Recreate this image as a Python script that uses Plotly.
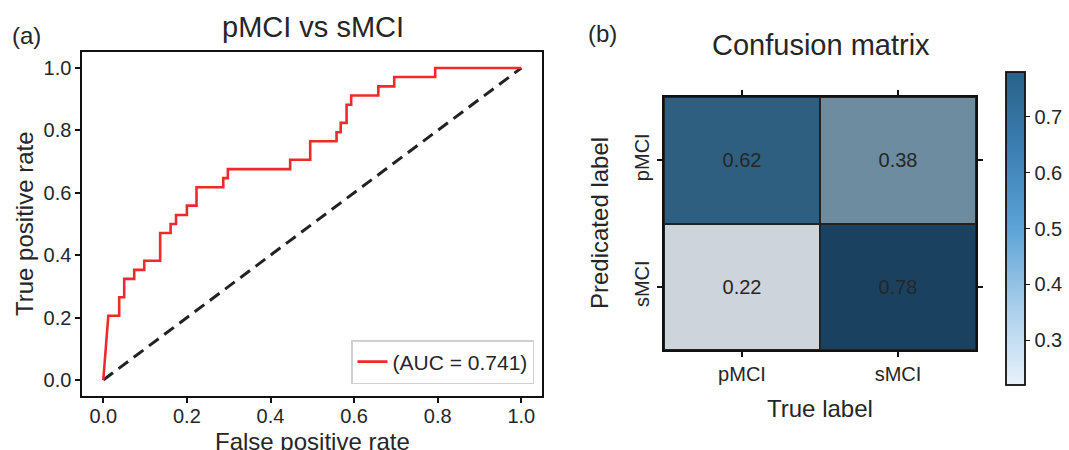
import plotly.graph_objects as go

# ROC curve corner points
fpr = [0.0, 0.012, 0.038, 0.038, 0.050, 0.050, 0.074, 0.074, 0.098, 0.098, 0.136, 0.136,
       0.161, 0.161, 0.174, 0.174, 0.200, 0.200, 0.223, 0.223, 0.287, 0.287, 0.298, 0.298,
       0.447, 0.447, 0.495, 0.495, 0.558, 0.558, 0.568, 0.568, 0.582, 0.582, 0.593, 0.593,
       0.658, 0.658, 0.696, 0.696, 0.794, 0.794, 1.0]
tpr = [0.0, 0.206, 0.206, 0.265, 0.265, 0.324, 0.324, 0.353, 0.353, 0.382, 0.382, 0.471,
       0.471, 0.500, 0.500, 0.529, 0.529, 0.559, 0.559, 0.618, 0.618, 0.647, 0.647, 0.676,
       0.676, 0.706, 0.706, 0.765, 0.765, 0.794, 0.794, 0.824, 0.824, 0.882, 0.882, 0.912,
       0.912, 0.941, 0.941, 0.971, 0.971, 1.0, 1.0]
diag_x = [0.0, 1.0]
diag_y = [0.0, 1.0]
auc_label = "(AUC = 0.741)"
roc_ticks = [0.0, 0.2, 0.4, 0.6, 0.8, 1.0]

# Confusion matrix
cm_labels = ["pMCI", "sMCI"]
cm_values = [[0.62, 0.38], [0.22, 0.78]]
cbar_range = [0.22, 0.78]
cbar_ticks = [0.3, 0.4, 0.5, 0.6, 0.7]

FONT = "Liberation Sans, Arial, sans-serif"
TXT = "#262626"
W, H = 1069, 450

def px(x):
    return x / W

def py(y):
    return 1 - y / H

fig = go.Figure()

fig.add_trace(go.Scatter(x=diag_x, y=diag_y, mode="lines",
                         line=dict(color="#222222", width=3, dash="12px,7px"),
                         showlegend=False, xaxis="x", yaxis="y", hoverinfo="skip"))
fig.add_trace(go.Scatter(x=fpr, y=tpr, mode="lines", name=auc_label,
                         line=dict(color="#EE2A2A", width=2.6),
                         xaxis="x", yaxis="y"))

cell_scale = [[0.0, "#CDD4DB"], [(0.38 - 0.22) / 0.56, "#6D8CA0"],
              [(0.62 - 0.22) / 0.56, "#2F5F80"], [1.0, "#1A4260"]]
fig.add_trace(go.Heatmap(z=cm_values, x=cm_labels, y=cm_labels,
                         zmin=cbar_range[0], zmax=cbar_range[1],
                         colorscale=cell_scale, showscale=False,
                         xgap=2, ygap=2,
                         texttemplate="%{z:.2f}",
                         textfont=dict(size=20, color=TXT, family=FONT),
                         xaxis="x2", yaxis="y2"))

bar_scale = [[0.0, "#E8F2FA"], [0.25, "#A9CEEA"], [0.5, "#5CA3D6"],
             [0.75, "#3C7FB3"], [1.0, "#2A6189"]]
fig.add_trace(go.Scatter(x=[None, None], y=[None, None], mode="markers",
                         marker=dict(color=cbar_range, cmin=cbar_range[0], cmax=cbar_range[1],
                                     colorscale=bar_scale, showscale=True,
                                     colorbar=dict(x=px(1006), xanchor="left", thickness=19,
                                                   xpad=0, ypad=0,
                                                   y=py((72 + 385) / 2), yanchor="middle",
                                                   len=(385 - 72) / H, lenmode="fraction",
                                                   outlinewidth=1.8, outlinecolor="#111111",
                                                   tickvals=cbar_ticks, ticks="outside",
                                                   ticklen=5, tickwidth=1.4, tickcolor="#111111",
                                                   tickfont=dict(size=20, color=TXT, family=FONT))),
                         showlegend=False, xaxis="x2", yaxis="y2", hoverinfo="skip"))

axis_common = dict(showline=True, linecolor="#111111", linewidth=2,
                   showgrid=False, zeroline=False, ticks="outside", ticklen=5,
                   tickwidth=1.6, tickcolor="#111111", automargin=False,
                   tickfont=dict(size=20, color=TXT, family=FONT))

def label(text, x, y, size, angle=0):
    return dict(text=text, x=px(x), y=py(y), xref="paper", yref="paper",
                xanchor="center", yanchor="middle", showarrow=False, textangle=angle,
                font=dict(size=size, color=TXT, family=FONT))

fig.update_layout(
    width=W, height=H,
    margin=dict(l=0, r=0, t=0, b=0, autoexpand=False),
    plot_bgcolor="white", paper_bgcolor="white",
    font=dict(family=FONT, color=TXT),
    xaxis=dict(domain=[px(82.4), px(542.2)], range=[-0.05, 1.05], mirror=True,
               tickvals=roc_ticks, tickformat=".1f", ticklabelstandoff=-4,
               anchor="y", **axis_common),
    yaxis=dict(domain=[py(395.6), py(52.4)], range=[-0.05, 1.05], mirror=True,
               tickvals=roc_ticks, tickformat=".1f",
               anchor="x", **axis_common),
    xaxis2=dict(domain=[px(664), px(976)], anchor="y2", mirror="ticks",
                **axis_common),
    yaxis2=dict(domain=[py(350), py(97)], anchor="x2", autorange="reversed", mirror="ticks",
                tickangle=-90, **axis_common),
    shapes=[dict(type="rect", xref="x2 domain", yref="y2 domain", x0=0, x1=1, y0=0, y1=1,
                 fillcolor="#222222", line=dict(width=0), layer="below")],
    legend=dict(x=px(534), y=py(384), xanchor="right", yanchor="bottom",
                bgcolor="white", bordercolor="#D0D0D0", borderwidth=1.5,
                font=dict(size=21, color=TXT, family=FONT),
                itemwidth=30, tracegroupgap=0),
    annotations=[
        label("pMCI vs sMCI", 313, 27, 29),
        label("Confusion matrix", 821, 45, 29),
        label("(a)", 26, 36, 24),
        label("(b)", 602, 33, 24),
        label("False positive rate", 312, 441, 24),
        label("True positive rate", 24, 224, 24, -90),
        label("True label", 820, 408, 24),
        label("Predicated label", 599, 223, 24, -90),
    ],
)

fig.write_html("out.html", config={"displayModeBar": False},
               post_script="document.body.style.margin='0px';")
